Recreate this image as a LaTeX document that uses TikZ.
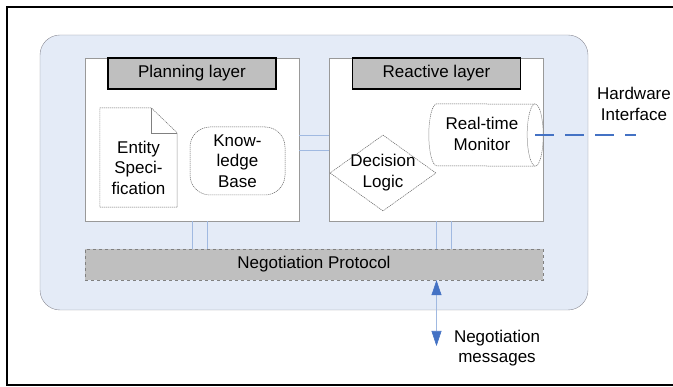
\documentclass[tikz,border=0pt]{standalone}
\usepackage{fontspec}
\setmainfont{Liberation Sans}
\usetikzlibrary{arrows.meta,shapes.geometric}
\definecolor{bgblue}{RGB}{228,235,247}
\definecolor{rimgray}{RGB}{140,140,150}
\definecolor{headgray}{RGB}{191,191,191}
\definecolor{linkblue}{RGB}{160,185,225}
\definecolor{hwblue}{RGB}{68,114,196}
\begin{document}
\begin{tikzpicture}[x=1pt,y=-1pt]
\tikzset{layer/.style = {draw=gray!80,fill=white,minimum width=214pt,minimum height=163pt}}
\tikzset{head/.style = {draw=black,line width=1.5pt,fill=headgray,minimum width=168pt,minimum height=31pt}}
\tikzset{part/.style = {draw=black!60,dash pattern=on 1.2pt off 0.8pt,line width=0.5pt,fill=white}}
\tikzset{txt/.style = {align=center,font=\fontsize{17}{20.5}\selectfont,inner sep=0pt}}
\tikzset{link/.style = {draw=linkblue,line width=0.6pt}}
\useasboundingbox (0,0) rectangle (673,387);
% frame, open on the right
\draw[line width=2pt] (673,7) -- (7,7) -- (7,385.5) -- (673,385.5);
\node[draw=rimgray,fill=bgblue,rounded corners=20pt,minimum width=548pt,minimum height=275pt] (agent) at (314,172.5) {};
\node[layer] (plan) at (192,139.5) {};
\node[layer] (react) at (436.5,139.5) {};
\node[head] (planhead) at (192,73.5) {};
\node[txt] at (planhead) {Planning layer};
\node[head] (reacthead) at (436.5,73.5) {};
\node[txt] at (reacthead) {Reactive layer};
% entity specification (folded sheet)
\node[minimum width=77pt,minimum height=99pt] (entity) at (138.5,157.5) {};
\draw[part] (entity.north west) -- ([xshift=-26pt]entity.north east) -- ([yshift=-25pt]entity.north east)
  -- (entity.south east) -- (entity.south west) -- cycle;
\draw[draw=gray,line width=0.4pt] ([xshift=-26pt]entity.north east) -- ([xshift=-26pt,yshift=-25pt]entity.north east) -- ([yshift=-25pt]entity.north east);
\node[txt] at ([yshift=-10pt]entity.center) {Entity\\Speci-\\fication};
\node[part,rounded corners=20pt,minimum width=95pt,minimum height=68pt] (kb) at (237.5,161) {};
\node[txt] at (kb) {Know-\\ledge\\Base};
\node[part,diamond,minimum width=106pt,minimum height=76pt,inner sep=0pt] (logic) at (383,173) {};
\node[txt] at ([yshift=0.5pt]logic.center) {Decision\\Logic};
% real-time monitor (lying drum)
\node[minimum width=114pt,minimum height=62pt] (monitor) at (486,135) {};
\draw[part] ([xshift=8pt]monitor.north west) arc[start angle=90,end angle=270,x radius=8pt,y radius=31pt]
  -- ([xshift=-8pt]monitor.south east) arc[start angle=-90,end angle=90,x radius=8pt,y radius=31pt] -- cycle;
\draw[part] ([xshift=-8pt]monitor.north east) arc[start angle=90,end angle=270,x radius=8pt,y radius=31pt];
\node[txt] at (482,134) {Real-time\\Monitor};
\node[draw=gray,dashed,fill=headgray,minimum width=458pt,minimum height=31pt] (nego) at (314,264.5) {};
\node[txt] at (nego) {Negotiation Protocol};
\coordinate (hw) at (636,135);
\node[txt] (hwtext) at (634,104) {Hardware\\Interface};
\coordinate (msg) at (436.5,346);
\node[txt] (msgtext) at (497,348) {Negotiation\\messages};
% links
\draw[link] ([yshift=4.5pt]plan.east) -- ([yshift=4.5pt]react.west);
\draw[link] ([yshift=-10.5pt]plan.east) -- ([yshift=-10.5pt]react.west);
\draw[link] (plan.south) -- (plan.south |- nego.north);
\draw[link] ([xshift=15pt]plan.south) -- ([xshift=15pt]plan.south |- nego.north);
\draw[link] (react.south) -- (react.south |- nego.north);
\draw[link] ([xshift=15pt]react.south) -- ([xshift=15pt]react.south |- nego.north);
\draw[link,{Triangle[width=10pt,length=15pt,color=hwblue]}-{Triangle[width=10pt,length=15pt,color=hwblue]}] (react.south |- nego.south) -- (msg);
\draw[hwblue,line width=2.5pt,dash pattern=on 19pt off 11pt] ([xshift=-8pt]monitor.east) -- (hw);
\end{tikzpicture}
\end{document}
